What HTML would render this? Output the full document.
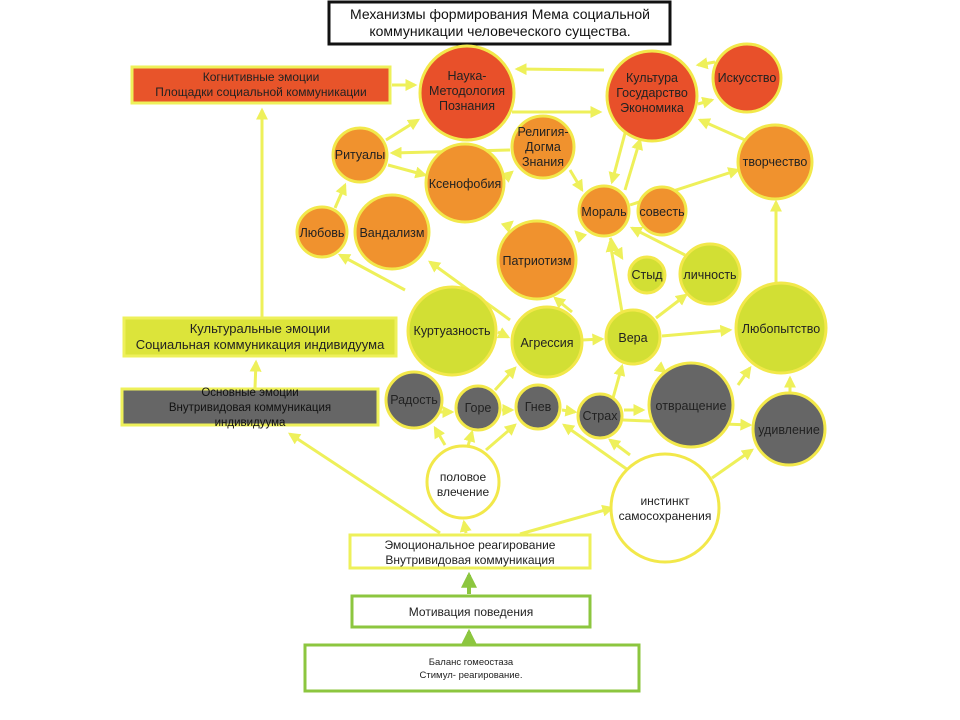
<!DOCTYPE html>
<html><head><meta charset="utf-8"><style>
html,body{margin:0;padding:0;background:#fff;}
svg{display:block;font-family:"Liberation Sans",sans-serif;}
</style></head><body>
<svg width="960" height="720" viewBox="0 0 960 720" xmlns="http://www.w3.org/2000/svg">
<defs>
<marker id="a" viewBox="0 0 10 10" refX="8" refY="5" markerWidth="4" markerHeight="4" orient="auto"><path d="M0,0L10,5L0,10z" fill="#eef05a"/></marker>
<marker id="g" viewBox="0 0 10 10" refX="8" refY="5" markerWidth="4" markerHeight="4" orient="auto"><path d="M0,0L10,5L0,10z" fill="#8cc63f"/></marker>
</defs>
<rect width="960" height="720" fill="#fff"/>
<g stroke="#eef05a" stroke-width="3" fill="none" marker-end="url(#a)">
<line x1="262" y1="318" x2="262" y2="110"/>
<line x1="392" y1="85" x2="415" y2="85"/>
<line x1="255" y1="388" x2="256" y2="362"/>
<line x1="440" y1="533" x2="290" y2="434"/>
<line x1="466" y1="533" x2="464" y2="522"/>
<line x1="520" y1="534" x2="612" y2="508"/>
<line x1="604" y1="70" x2="517" y2="69"/>
<line x1="512" y1="112" x2="600" y2="112"/>
<line x1="715" y1="62" x2="698" y2="65"/>
<line x1="698" y1="104" x2="712" y2="100"/>
<line x1="745" y1="140" x2="700" y2="120"/>
<line x1="386" y1="140" x2="418" y2="120"/>
<line x1="510" y1="150" x2="392" y2="153"/>
<line x1="388" y1="165" x2="425" y2="175"/>
<line x1="505" y1="178" x2="512" y2="172"/>
<line x1="628" y1="122" x2="612" y2="182"/>
<line x1="625" y1="190" x2="640" y2="140"/>
<line x1="570" y1="170" x2="582" y2="190"/>
<line x1="335" y1="208" x2="345" y2="185"/>
<line x1="630" y1="205" x2="738" y2="170"/>
<line x1="776" y1="282" x2="776" y2="202"/>
<line x1="685" y1="255" x2="632" y2="228"/>
<line x1="610" y1="238" x2="622" y2="258"/>
<line x1="582" y1="238" x2="576" y2="232"/>
<line x1="405" y1="290" x2="340" y2="255"/>
<line x1="510" y1="320" x2="430" y2="262"/>
<line x1="505" y1="228" x2="512" y2="222"/>
<line x1="572" y1="312" x2="555" y2="298"/>
<line x1="622" y1="312" x2="610" y2="242"/>
<line x1="656" y1="318" x2="686" y2="295"/>
<line x1="498" y1="332" x2="508" y2="337"/>
<line x1="582" y1="340" x2="602" y2="339"/>
<line x1="662" y1="336" x2="730" y2="330"/>
<line x1="738" y1="385" x2="750" y2="368"/>
<line x1="495" y1="390" x2="515" y2="368"/>
<line x1="613" y1="398" x2="622" y2="366"/>
<line x1="660" y1="368" x2="665" y2="372"/>
<line x1="790" y1="396" x2="790" y2="378"/>
<line x1="440" y1="412" x2="452" y2="412"/>
<line x1="502" y1="410" x2="512" y2="410"/>
<line x1="562" y1="410" x2="575" y2="412"/>
<line x1="624" y1="410" x2="643" y2="410"/>
<line x1="623" y1="420" x2="750" y2="425"/>
<line x1="445" y1="445" x2="435" y2="428"/>
<line x1="468" y1="446" x2="472" y2="432"/>
<line x1="486" y1="450" x2="515" y2="425"/>
<line x1="628" y1="470" x2="564" y2="425"/>
<line x1="630" y1="455" x2="610" y2="440"/>
<line x1="712" y1="478" x2="752" y2="450"/>
</g>
<g stroke="#8cc63f" stroke-width="4" marker-end="url(#g)">
<line x1="469" y1="594" x2="469" y2="575"/>
<line x1="469" y1="644" x2="469" y2="632"/>
</g>
<rect x="329" y="2" width="341" height="42" fill="#fff" stroke="#111" stroke-width="3"/>
<text x="500" y="19" font-size="14" text-anchor="middle" fill="#111">Механизмы формирования Мема социальной</text>
<text x="500" y="36" font-size="14" text-anchor="middle" fill="#111">коммуникации человеческого существа.</text>
<rect x="132" y="67" width="258" height="36" fill="#e8542a" stroke="#eef05a" stroke-width="3"/>
<text x="261" y="81" font-size="12" text-anchor="middle" fill="#222">Когнитивные эмоции</text>
<text x="261" y="96" font-size="12" text-anchor="middle" fill="#222">Площадки социальной коммуникации</text>
<rect x="124" y="318" width="272" height="38" fill="#dce43a" stroke="#eef05a" stroke-width="3"/>
<text x="260" y="333" font-size="13" text-anchor="middle" fill="#222">Культуральные эмоции</text>
<text x="260" y="349" font-size="13" text-anchor="middle" fill="#222">Социальная коммуникация индивидуума</text>
<rect x="122" y="389" width="256" height="36" fill="#666" stroke="#eef05a" stroke-width="3"/>
<text x="250" y="396" font-size="11.5" text-anchor="middle" fill="#111">Основные эмоции</text>
<text x="250" y="411" font-size="11.5" text-anchor="middle" fill="#111">Внутривидовая коммуникация</text>
<text x="250" y="426" font-size="11.5" text-anchor="middle" fill="#111">индивидуума</text>
<rect x="350" y="535" width="240" height="33" fill="#fff" stroke="#eef05a" stroke-width="3"/>
<text x="470" y="549" font-size="12" text-anchor="middle" fill="#222">Эмоциональное реагирование</text>
<text x="470" y="564" font-size="12" text-anchor="middle" fill="#222">Внутривидовая коммуникация</text>
<rect x="352" y="596" width="238" height="31" fill="#fff" stroke="#8cc63f" stroke-width="3"/>
<text x="471" y="616" font-size="12" text-anchor="middle" fill="#222">Мотивация поведения</text>
<rect x="305" y="645" width="334" height="46" fill="#fff" stroke="#8cc63f" stroke-width="3"/>
<text x="471" y="665" font-size="9.5" text-anchor="middle" fill="#222">Баланс гомеостаза</text>
<text x="471" y="678" font-size="9.5" text-anchor="middle" fill="#222">Стимул- реагирование.</text>
<g stroke="#f2e84a" stroke-width="3">
<circle cx="467" cy="93" r="47" fill="#e8502a"/>
<circle cx="652" cy="96" r="45" fill="#e8502a"/>
<circle cx="747" cy="78" r="34" fill="#e8502a"/>
<circle cx="360" cy="155" r="27" fill="#f0922e"/>
<circle cx="465" cy="183" r="39" fill="#f0922e"/>
<circle cx="543" cy="147" r="31" fill="#f0922e"/>
<circle cx="775" cy="162" r="37" fill="#f0922e"/>
<circle cx="322" cy="232" r="25" fill="#f0922e"/>
<circle cx="392" cy="232" r="37" fill="#f0922e"/>
<circle cx="537" cy="260" r="39" fill="#f0922e"/>
<circle cx="604" cy="211" r="25" fill="#f0922e"/>
<circle cx="662" cy="211" r="24" fill="#f0922e"/>
<circle cx="647" cy="275" r="18" fill="#d2df34"/>
<circle cx="710" cy="274" r="30" fill="#d2df34"/>
<circle cx="452" cy="331" r="44" fill="#d2df34"/>
<circle cx="547" cy="342" r="35" fill="#d2df34"/>
<circle cx="633" cy="337" r="27" fill="#d2df34"/>
<circle cx="781" cy="328" r="45" fill="#d2df34"/>
<circle cx="414" cy="400" r="28" fill="#666"/>
<circle cx="478" cy="408" r="22" fill="#666"/>
<circle cx="538" cy="407" r="22" fill="#666"/>
<circle cx="600" cy="416" r="22" fill="#666"/>
<circle cx="691" cy="405" r="42" fill="#666"/>
<circle cx="789" cy="429" r="36" fill="#666"/>
<circle cx="463" cy="482" r="36" fill="#fff"/>
<circle cx="665" cy="508" r="54" fill="#fff"/>
</g>
<g font-size="12.5" text-anchor="middle" fill="#222">
<text x="467" y="80">Наука-</text><text x="467" y="95">Методология</text><text x="467" y="110">Познания</text>
<text x="652" y="82">Культура</text><text x="652" y="97">Государство</text><text x="652" y="112">Экономика</text>
<text x="747" y="82">Искусство</text>
<text x="360" y="159">Ритуалы</text>
<text x="465" y="188">Ксенофобия</text>
<text x="543" y="136">Религия-</text><text x="543" y="151">Догма</text><text x="543" y="166">Знания</text>
<text x="775" y="166">творчество</text>
<text x="322" y="237">Любовь</text>
<text x="392" y="237">Вандализм</text>
<text x="537" y="265">Патриотизм</text>
<text x="604" y="216">Мораль</text>
<text x="662" y="216">совесть</text>
<text x="647" y="279">Стыд</text>
<text x="710" y="279">личность</text>
<text x="452" y="335">Куртуазность</text>
<text x="547" y="347">Агрессия</text>
<text x="633" y="342">Вера</text>
<text x="781" y="333">Любопытство</text>
<text x="414" y="404">Радость</text>
<text x="478" y="412">Горе</text>
<text x="538" y="411">Гнев</text>
<text x="600" y="420">Страх</text>
<text x="691" y="410">отвращение</text>
<text x="789" y="434">удивление</text>
<text x="463" y="481" font-size="12">половое</text><text x="463" y="496" font-size="12">влечение</text>
<text x="665" y="505" font-size="12">инстинкт</text><text x="665" y="520" font-size="12">самосохранения</text>
</g>
</svg>
</body></html>
